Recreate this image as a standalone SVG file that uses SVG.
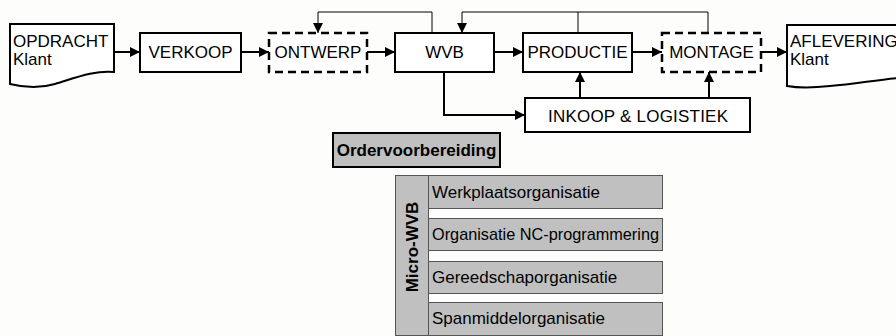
<svg xmlns="http://www.w3.org/2000/svg" width="896" height="336" viewBox="0 0 896 336">
<defs>
<marker id="ah" viewBox="0 0 10 10" refX="10" refY="5" markerWidth="5" markerHeight="5" orient="auto" markerUnits="strokeWidth">
<path d="M0,0 L10,5 L0,10 Z" fill="#000"/>
</marker>
<marker id="ahs" viewBox="0 0 10 10" refX="10" refY="5" markerWidth="10" markerHeight="10" orient="auto" markerUnits="strokeWidth">
<path d="M0,0 L10,5 L0,10 Z" fill="#000"/>
</marker>
</defs>
<style>
.box{fill:#fff;stroke:#000;stroke-width:2}
.dash{fill:#fff;stroke:#000;stroke-width:2.5;stroke-dasharray:8,5}
.gray{fill:#c0c0c0;stroke:#000;stroke-width:2}
.row{fill:#c0c0c0;stroke:#555;stroke-width:1}
.t{font-family:"Liberation Sans",Arial,sans-serif;font-size:17px;fill:#000}
.b{font-weight:bold}
.c{text-anchor:middle}
.thick{fill:none;stroke:#000;stroke-width:2;marker-end:url(#ah)}
.thin{fill:none;stroke:#000;stroke-width:1}
.thina{fill:none;stroke:#000;stroke-width:1;marker-end:url(#ahs)}
</style>
<rect width="896" height="336" fill="#fdfdfc"/>
<g id="connectors">
<path class="thick" d="M114,52 H140"/>
<path class="thick" d="M241,52 H269"/>
<path class="thick" d="M367,52 H395"/>
<path class="thick" d="M494,52 H523"/>
<path class="thick" d="M632,52 H662"/>
<path class="thick" d="M761,52 H787"/>
<path class="thina" d="M432,33 V12 H318 V33"/>
<path class="thin" d="M578,33 V12"/>
<path class="thina" d="M708,33 V12 H462 V33"/>
<path class="thick" d="M444,72 V115 H525"/>
<path class="thick" d="M580,98 V72"/>
<path class="thick" d="M709,98 V72"/>
</g>
<g id="opdracht">
<path class="box" d="M10,24 H114 V72 C95,70 75,78 55,84 C38,89 22,87 10,84 Z"/>
<text class="t" x="13" y="47">OPDRACHT</text>
<text class="t" x="13" y="65">Klant</text>
</g>
<g id="verkoop">
<rect class="box" x="140" y="33" width="101" height="39"/>
<text class="t c" x="190.5" y="58">VERKOOP</text>
</g>
<g id="ontwerp">
<rect class="dash" x="269" y="33" width="98" height="39"/>
<text class="t c" x="318" y="58">ONTWERP</text>
</g>
<g id="wvb">
<rect class="box" x="395" y="33" width="99" height="39"/>
<text class="t c" x="444.5" y="58">WVB</text>
</g>
<g id="productie">
<rect class="box" x="523" y="33" width="109" height="39"/>
<text class="t c" x="577.5" y="58">PRODUCTIE</text>
</g>
<g id="montage">
<rect class="dash" x="662" y="33" width="99" height="39"/>
<text class="t c" x="711.5" y="58">MONTAGE</text>
</g>
<g id="aflevering">
<path class="box" d="M787,25 H898 V78 C875,80 855,84 830,86 C812,88 798,88 787,86 Z"/>
<text class="t" x="790" y="47">AFLEVERING</text>
<text class="t" x="790" y="65">Klant</text>
</g>
<g id="inkoop">
<rect class="box" x="525" y="98" width="225" height="34"/>
<text class="t c" x="638" y="122" textLength="180">INKOOP &amp; LOGISTIEK</text>
</g>
<g id="ordervoorbereiding">
<rect class="gray" x="333" y="133" width="167" height="34"/>
<text class="t b c" x="416.5" y="156">Ordervoorbereiding</text>
</g>
<g id="micro-wvb">
<rect class="row" x="395.5" y="175.5" width="33" height="160"/>
<text class="t b c" transform="translate(418,247) rotate(-90)">Micro-WVB</text>
</g>
<g id="werkplaatsorganisatie">
<rect class="row" x="428.5" y="175.5" width="234" height="33"/>
<text class="t" x="432" y="198">Werkplaatsorganisatie</text>
</g>
<g id="nc-programmering">
<rect class="row" x="428.5" y="218.5" width="234" height="32"/>
<text class="t" x="432" y="240" textLength="227" lengthAdjust="spacingAndGlyphs">Organisatie NC-programmering</text>
</g>
<g id="gereedschaporganisatie">
<rect class="row" x="428.5" y="261.5" width="234" height="32"/>
<text class="t" x="432" y="283">Gereedschaporganisatie</text>
</g>
<g id="spanmiddelorganisatie">
<rect class="row" x="428.5" y="302.5" width="234" height="33"/>
<text class="t" x="432" y="324">Spanmiddelorganisatie</text>
</g>
</svg>
